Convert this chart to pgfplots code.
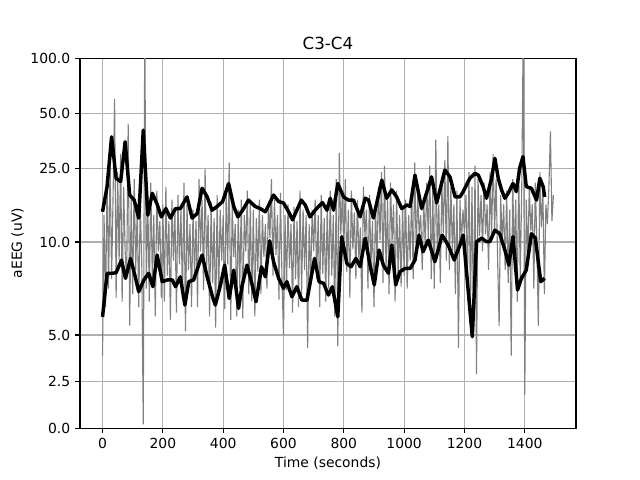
\documentclass[border=0pt]{standalone}
\usepackage{pgfplots}
\pgfplotsset{compat=1.18}
\usepackage{pgfplotstable}
\usepackage{fontspec}
\setmainfont{DejaVu Sans}
\definecolor{mplgray}{HTML}{808080}
\definecolor{gridgray}{HTML}{B0B0B0}
% raw trace, one value every 5 s starting at 0 s
\pgfplotstableread{
v
3.9
14
6.5
22
7.5
28
8
18
60
7
24
9
30
6.8
20
9.5
8
44
5.5
17
7.2
22
8.5
15
6.5
16
9
0.2
150
7.5
18
6.8
21
8
14
6
19
9.5
13
7
16
6.8
20
8.2
13
5.8
17
9
14.5
6.2
18
8.8
15
7
21
5.2
16
8.5
12.5
6.5
15
8.2
13
6.5
22
9.5
17
7.4
25
8.6
14
6
16.5
7.8
13.5
5.4
18
7
15
9
14
6.4
19
8.8
27
5.8
16
9.2
12.5
6
15
7.5
17
5.9
14
9.5
19
7.2
16.5
6.8
15
6
13.5
8.4
17
7.2
14
9.2
12.5
7.5
16.5
10.5
22
8.2
17
9.3
14
6.9
18.5
8
5.0
14
7.4
16
8.6
12.5
6.2
15.5
8
13
6.5
19
7.2
15
8.5
14
4.3
12.5
7.8
15
9.5
17
8
14
6.5
18
8.3
13.5
6.8
16
7.5
19
8.2
14
6
22
4.4
30.5
11
18
9.5
22
8.4
15
7
19
9.6
14.5
8
17
9
12
6.2
20
10.8
15
7.5
18
8.8
13
6.5
16
9
20
10.2
24
7.8
26
8.5
17
7.2
21
10
16
6.8
19
8.2
14
7.6
15.5
8.2
17
7.5
14
9
19
8
27
9.5
18
11
14
8.5
17
9.8
21
10.5
26
8
19
7.5
36
9.2
16
7.8
21
11.2
28
9
37.6
8.5
20
9.5
16
7.2
19
4.3
17
10
15
11
18
8
24
6.5
20
5.2
26
2.9
22
10.8
18
9.5
21
11
16
8.5
24
10.5
30
11.5
22
9
5.5
18
10
16
8.5
19
7.8
15
3.9
22
9
17
6.8
24
8
20
150
1.8
17
9
20
11.5
16
7.5
21
10
5.5
24
12
19
7.2
16
12.5
20
40
13
18
}\rawtrace
\begin{document}
\begin{tikzpicture}[font=\fontsize{10}{12}\selectfont]
\begin{axis}[
  scale only axis,
  width=357.1pt, height=266.4pt,
  xmin=-74.75, xmax=1569.75,
  ymin=0, ymax=100,
  y coord trafo/.code={\pgfmathparse{min(#1,10)+9.89*ln(max(#1,10)/10)/ln(10)}},
  xtick={0,200,400,600,800,1000,1200,1400},
  ytick={0,2.5,5,10,25,50,100},
  yticklabels={0.0,2.5,5.0,10.0,25.0,50.0,100.0},
  xticklabels={0,200,400,600,800,1000,1200,1400},
  /pgf/number format/assume math mode=true,
  tick align=outside, xtick pos=bottom, ytick pos=left,
  major tick length=3.5pt,
  tick style={black, line width=0.8pt},
  grid=major,
  major grid style={gridgray, line width=0.8pt},
  axis line style={black, line width=0.8pt},
  title={C3-C4},
  title style={at={(0.5,1)}, anchor=base, yshift=0pt, font=\fontsize{12}{14}\selectfont},
  xlabel={Time (seconds)},
  ylabel={aEEG (uV)},
  xlabel style={yshift=1pt},
  ylabel style={yshift=-2pt},
  clip=true,
]
\addplot[mplgray, line width=0.8pt, line join=miter] table[x expr=\coordindex*5, y=v] {\rawtrace};
\addplot[black, line width=2.5pt, line join=round] coordinates {
(0,14.6)(15,20.0)(30,37.3)(45,22.2)(60,21.3)(75,35.1)(90,18.0)(105,16.9)(120,13.5)(135,40.6)(150,14.0)(165,18.4)(180,16.2)(195,13.7)(210,15.2)(225,13.5)(242,15.2)(258,15.2)(280,17.6)(297,13.5)(314,14.3)(330,19.6)(347,17.6)(363,14.9)(380,15.6)(398,16.6)(418,20.8)(435,15.6)(449,13.7)(468,15.2)(484,16.9)(506,15.6)(523,15.2)(540,14.6)(567,18.0)(584,16.6)(600,16.3)(617,14.6)(630,13.2)(659,16.9)(672,15.9)(688,13.7)(705,14.9)(729,16.4)(744,14.9)(755,17.3)(766,14.9)(780,20.8)(799,17.6)(815,16.9)(832,16.9)(854,13.7)(871,17.3)(882,16.9)(898,13.5)(926,21.7)(942,17.3)(959,19.2)(975,17.6)(992,15.2)(1009,15.9)(1020,15.6)(1036,23.1)(1058,15.2)(1091,22.6)(1108,16.3)(1135,24.6)(1152,22.6)(1169,17.6)(1185,17.6)(1196,18.8)(1218,22.2)(1235,23.6)(1246,23.1)(1262,20.0)(1273,17.3)(1290,22.2)(1301,28.5)(1312,22.2)(1323,19.2)(1334,17.3)(1345,18.4)(1361,20.8)(1372,18.8)(1383,25.2)(1394,29.1)(1405,20.0)(1422,19.6)(1439,16.9)(1450,22.2)(1461,20.0)(1466,17.6)
};
\addplot[black, line width=2.5pt, line join=round] coordinates {
(0,5.98)(15,8.32)(32,8.32)(45,8.35)(63,9.03)(76,8.05)(93,9.12)(107,8.23)(120,7.33)(137,7.96)(153,8.32)(167,7.60)(181,9.30)(198,7.87)(214,7.96)(231,7.96)(242,7.60)(258,8.13)(273,6.61)(286,7.87)(302,7.96)(330,9.30)(347,8.13)(363,7.15)(374,6.61)(391,7.69)(405,8.76)(420,6.97)(435,8.49)(451,6.43)(462,7.60)(479,8.76)(495,7.78)(509,6.79)(527,8.67)(540,8.13)(554,10.16)(567,8.94)(584,8.05)(600,7.51)(611,7.87)(628,7.06)(644,7.60)(661,6.88)(678,6.88)(703,9.12)(718,7.87)(733,7.78)(749,7.15)(762,7.60)(780,5.98)(793,10.7)(810,8.85)(824,8.67)(840,9.12)(854,8.67)(871,10.5)(887,8.76)(901,7.69)(917,9.57)(931,8.76)(948,8.32)(959,9.85)(972,7.69)(986,8.40)(1003,8.58)(1020,8.58)(1036,9.03)(1049,10.9)(1063,9.48)(1080,10.25)(1102,8.94)(1126,10.9)(1146,9.84)(1166,9.03)(1185,9.84)(1196,10.9)(1226,4.91)(1240,10.04)(1257,10.5)(1273,10.04)(1284,10.04)(1301,11.6)(1317,11.1)(1334,9.57)(1347,8.76)(1361,10.7)(1376,7.42)(1389,8.05)(1405,8.49)(1422,11.1)(1435,10.5)(1453,7.87)(1466,8.05)
};
\end{axis}
\path (current axis.south west) ++(-57.6pt,-37.4pt) coordinate (bbsw);
\path (current axis.north east) ++(46.1pt,41.8pt) coordinate (bbne);
\useasboundingbox (bbsw) rectangle (bbne);
\end{tikzpicture}
\end{document}
